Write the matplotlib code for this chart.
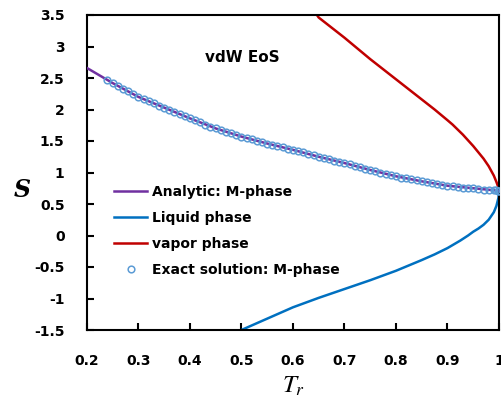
import matplotlib
matplotlib.use('Agg')
import matplotlib.pyplot as plt
from matplotlib.ticker import FuncFormatter

plt.rcParams['font.family'] = ['DejaVu Sans']
plt.rcParams['mathtext.fontset'] = 'stix'

# M-phase analytic curve (reduced temperature, S)
tr_analytic = [0.2, 0.25, 0.3, 0.35, 0.4, 0.45, 0.5, 0.55, 0.6, 0.65,
               0.7, 0.75, 0.8, 0.85, 0.9, 0.95, 1.0]
s_analytic = [2.66, 2.42, 2.20, 2.03, 1.86, 1.70, 1.57, 1.46, 1.36, 1.25,
              1.15, 1.04, 0.94, 0.86, 0.79, 0.75, 0.71]

# exact M-phase solution points
tr_exact = [0.24, 0.25, 0.26, 0.27, 0.28, 0.29, 0.30, 0.31, 0.32, 0.33,
            0.34, 0.35, 0.36, 0.37, 0.38, 0.39, 0.40, 0.41, 0.42, 0.43,
            0.44, 0.45, 0.46, 0.47, 0.48, 0.49, 0.50, 0.51, 0.52, 0.53,
            0.54, 0.55, 0.56, 0.57, 0.58, 0.59, 0.60, 0.61, 0.62, 0.63,
            0.64, 0.65, 0.66, 0.67, 0.68, 0.69, 0.70, 0.71, 0.72, 0.73,
            0.74, 0.75, 0.76, 0.77, 0.78, 0.79, 0.80, 0.81, 0.82, 0.83,
            0.84, 0.85, 0.86, 0.87, 0.88, 0.89, 0.90, 0.91, 0.92, 0.93,
            0.94, 0.95, 0.96, 0.97, 0.98, 0.99, 0.995, 0.999, 1.0]
s_exact = [2.47, 2.42, 2.38, 2.33, 2.29, 2.24, 2.20, 2.17, 2.13, 2.10,
           2.06, 2.03, 1.99, 1.96, 1.93, 1.89, 1.86, 1.83, 1.80, 1.76,
           1.73, 1.70, 1.67, 1.65, 1.62, 1.60, 1.57, 1.55, 1.53, 1.50,
           1.48, 1.46, 1.44, 1.42, 1.40, 1.38, 1.36, 1.34, 1.32, 1.29,
           1.27, 1.25, 1.23, 1.21, 1.19, 1.17, 1.15, 1.13, 1.11, 1.08,
           1.06, 1.04, 1.02, 1.00, 0.98, 0.96, 0.94, 0.92, 0.91, 0.89,
           0.88, 0.86, 0.85, 0.83, 0.82, 0.80, 0.79, 0.78, 0.77, 0.76,
           0.76, 0.75, 0.74, 0.73, 0.73, 0.72, 0.72, 0.71, 0.71]

# liquid branch
tr_liquid = [0.49, 0.5, 0.55, 0.6, 0.65, 0.7, 0.75, 0.8, 0.85, 0.875,
             0.9, 0.925, 0.94, 0.95, 0.96, 0.97, 0.98, 0.99, 0.995, 0.999, 1.0]
s_liquid = [-1.54, -1.50, -1.32, -1.14, -0.99, -0.85, -0.71, -0.56, -0.39, -0.30,
            -0.20, -0.08, 0.00, 0.06, 0.11, 0.17, 0.25, 0.37, 0.47, 0.60, 0.71]

# vapor branch
tr_vapor = [0.64, 0.65, 0.7, 0.75, 0.8, 0.85, 0.875, 0.9, 0.91, 0.93,
            0.95, 0.96, 0.97, 0.98, 0.99, 0.995, 0.999, 1.0]
s_vapor = [3.58, 3.46, 3.14, 2.80, 2.48, 2.16, 2.00, 1.83, 1.76, 1.60,
           1.42, 1.32, 1.22, 1.10, 0.95, 0.85, 0.76, 0.71]

fig = plt.figure(figsize=(5.02, 4.0), dpi=100)
ax = fig.add_axes([0.173, 0.175, 0.821, 0.7875])

ax.plot(tr_analytic, s_analytic, color='#7030A0', lw=1.8, label='Analytic: M-phase', zorder=3)
ax.plot(tr_liquid, s_liquid, color='#0070C0', lw=1.8, label='Liquid phase', zorder=2)
ax.plot(tr_vapor, s_vapor, color='#C00000', lw=1.8, label='vapor phase', zorder=2)
ax.plot(tr_exact, s_exact, linestyle='none', marker='o', ms=4.8, mfc='none',
        mec='#5B9BD5', mew=1.1, label='Exact solution: M-phase', zorder=4)

ax.set_xlim(0.2, 1.0)
ax.set_ylim(-1.5, 3.5)
ax.set_xticks([0.2, 0.3, 0.4, 0.5, 0.6, 0.7, 0.8, 0.9, 1.0])
ax.set_yticks([-1.5, -1, -0.5, 0, 0.5, 1, 1.5, 2, 2.5, 3, 3.5])
fmt = FuncFormatter(lambda v, p: '{:g}'.format(round(v, 2)))
ax.xaxis.set_major_formatter(fmt)
ax.yaxis.set_major_formatter(fmt)
ax.tick_params(direction='in', length=5, width=1.5, labelsize=10)
ax.tick_params(axis='y', pad=16)
ax.tick_params(axis='x', pad=17)
for lab in ax.get_xticklabels() + ax.get_yticklabels():
    lab.set_fontweight('bold')
for sp in ax.spines.values():
    sp.set_linewidth(1.5)

ax.text(0.501, 2.83, 'vdW EoS', fontsize=11, fontweight='bold', ha='center', va='center')

fig.text(0.045, 0.525, 'S', fontsize=17, fontweight='bold', fontstyle='italic',
         family='DejaVu Serif', ha='center', va='center')
fig.text(0.584, 0.036, r'$T_r$', fontsize=18, ha='center', va='center')

leg = ax.legend(loc='upper left', bbox_to_anchor=(0.066, 0.46), frameon=False,
                prop={'size': 10, 'weight': 'bold'}, handlelength=2.4,
                handletextpad=0.3, labelspacing=0.86, borderaxespad=0, borderpad=0)

fig.savefig('out.png', dpi=100)
